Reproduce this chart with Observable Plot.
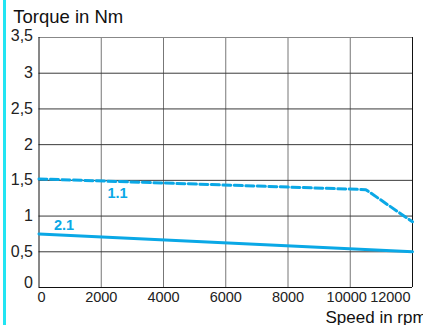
<!DOCTYPE html>
<html><head><meta charset="utf-8">
<script src="https://cdn.jsdelivr.net/npm/d3@7"></script>
<script src="https://cdn.jsdelivr.net/npm/@observablehq/plot@0.6"></script>
<style>
html,body{margin:0;padding:0;background:#fff;}
#wrap{position:relative;width:423px;height:325px;overflow:hidden;}
#bar{position:absolute;left:3px;top:0;width:3px;height:325px;background:#22e4f2;}
#wrap svg{position:absolute;left:0;top:0;}
</style></head><body>
<div id="wrap"><div id="bar"></div></div>
<script>
// Data
const speed11 = [0, 10500, 12000];
const torque11 = [1.52, 1.37, 0.92];
const speed21 = [0, 12000];
const torque21 = [0.75, 0.50];
const xTicks = [0, 2000, 4000, 6000, 8000, 10000, 12000];
const yTicks = [0, 0.5, 1, 1.5, 2, 2.5, 3, 3.5];
const curveNames = ["1.1", "2.1"];
const curveLabelSpeed = [2200, 480];
const curveLabelTorque = [1.26, 0.80];
const yTitle = "Torque in Nm";
const xTitle = "Speed in rpm";

const blue = "#0aa8e6";
const fmtY = d => String(d).replace(".", ",");
const fmtX = d => String(d);
const line11 = speed11.map((s, i) => ({speed: s, torque: torque11[i]}));
const line21 = speed21.map((s, i) => ({speed: s, torque: torque21[i]}));
const labels = curveNames.map((n, i) => ({name: n, speed: curveLabelSpeed[i], torque: curveLabelTorque[i]}));
const tY = {y: d => d, text: fmtY, frameAnchor: "left", textAnchor: "end", lineAnchor: "middle", fontSize: 16, fill: "#222"};
const tX = {x: d => d, text: fmtX, frameAnchor: "bottom", textAnchor: "middle", lineAnchor: "top", dy: 4.5, fontSize: 14.5, fill: "#222"};

const chart = Plot.plot({
  width: 423,
  height: 325,
  marginLeft: 38.5,
  marginRight: 11,
  marginTop: 37,
  marginBottom: 38,
  style: {fontFamily: "'Liberation Sans', Arial, sans-serif", fontSize: "14px", color: "#222", background: "transparent", overflow: "visible"},
  x: {domain: [0, 12000], axis: null},
  y: {domain: [0, 3.5], axis: null},
  marks: [
    Plot.gridX(xTicks.slice(1, -1), {stroke: "#777", strokeOpacity: 1}),
    Plot.gridY(yTicks.slice(1, -1), {stroke: "#3a3a3a", strokeOpacity: 1}),
    Plot.ruleY([yTicks[yTicks.length - 1]], {stroke: "#888"}),
    Plot.ruleX([xTicks[0]], {stroke: "#111"}),
    Plot.ruleX([xTicks[xTicks.length - 1]], {stroke: "#111"}),
    Plot.ruleY([yTicks[0]], {stroke: "#111"}),
    Plot.line(line21, {x: "speed", y: "torque", stroke: blue, strokeWidth: 3}),
    Plot.line(line11, {x: "speed", y: "torque", stroke: blue, strokeWidth: 3, strokeDasharray: "8,3.5"}),
    Plot.text(labels, {x: "speed", y: "torque", text: "name", fill: blue, fontWeight: "bold", fontSize: 14.5, textAnchor: "start", lineAnchor: "bottom"}),
    Plot.text(yTicks.slice(1, -1), {...tY, dx: -6}),
    Plot.text([yTicks[0]], {...tY, dx: -6, dy: -5}),
    Plot.text([yTicks[yTicks.length - 1]], {...tY, dx: -6, dy: -2}),
    Plot.text([xTicks[0]], {...tX, dx: 2.5}),
    Plot.text(xTicks.slice(1, 5), tX),
    Plot.text([xTicks[5]], {...tX, dx: -3.5}),
    Plot.text([xTicks[6]], {...tX, textAnchor: "end", dx: -2}),
    Plot.text([yTitle], {text: d => d, frameAnchor: "top-left", dx: -25.8, dy: -15, textAnchor: "start", lineAnchor: "bottom", fontSize: 18.5, fill: "#111"}),
    Plot.text([xTitle], {text: d => d, frameAnchor: "bottom-right", dx: -87, dy: 35.5, textAnchor: "start", lineAnchor: "bottom", fontSize: 17, fill: "#111"})
  ]
});
document.getElementById("wrap").appendChild(chart);
</script>
</body></html>
